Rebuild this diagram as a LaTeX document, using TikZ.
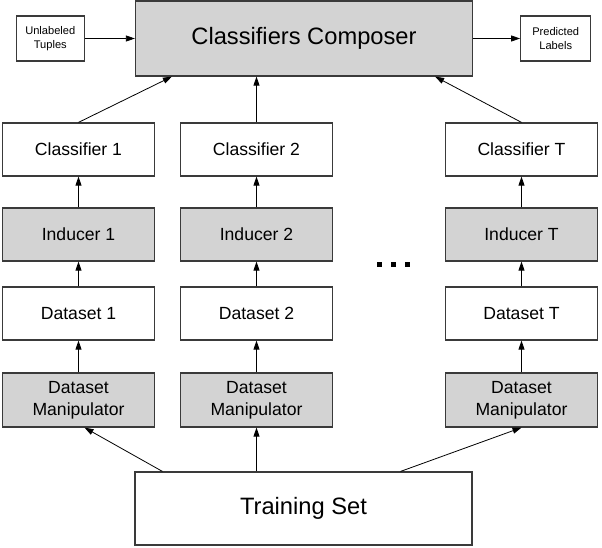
\documentclass[tikz,border=0pt]{standalone}
\usepackage{fontspec}
\setmainfont{Liberation Sans}
\usetikzlibrary{arrows.meta, positioning, calc}

\definecolor{boxgray}{HTML}{D3D3D3}
\definecolor{edgegray}{HTML}{3A3A3A}

\begin{document}
\begin{tikzpicture}[
    x=1pt, y=-1pt,
    bigbox/.style={
        rectangle,
        draw=edgegray,
        line width=1.2pt,
        minimum width=337pt,
        align=center,
        font=\fontsize{23.7}{28}\selectfont
    },
    stage/.style={
        rectangle,
        draw=edgegray,
        line width=1.2pt,
        fill=white,
        minimum width=152pt,
        minimum height=53pt,
        align=center,
        font=\fontsize{17.6}{22}\selectfont
    },
    smallbox/.style={
        rectangle,
        draw=edgegray,
        line width=1.2pt,
        minimum height=45pt,
        align=center,
        font=\fontsize{11.1}{13.5}\selectfont
    },
    shaded/.style={fill=boxgray},
    flow/.style={-{Triangle[length=9pt,width=6pt]}, line width=0.8pt, black}
]
    \useasboundingbox (0,0) rectangle (602,548);

    % TOP ROW
    \node[bigbox, shaded, minimum height=75pt] (comp) at (304, 38.5) {Classifiers Composer};
    \node[smallbox, minimum width=68pt, left=50pt of comp] (tuples) {Unlabeled\\Tuples};
    \node[smallbox, minimum width=70pt, right=47pt of comp] (labels) {Predicted\\Labels};

    % Classifiers
    \node[stage] (cls1) at (78.5, 149.5) {Classifier 1};
    \node[stage] (cls2) at (256.5, 149.5) {Classifier 2};
    \node[stage] (clsT) at (521.5, 149.5) {Classifier T};

    % Inducers
    \node[stage, shaded] (ind1) at (78.5, 234.5) {Inducer 1};
    \node[stage, shaded] (ind2) at (256.5, 234.5) {Inducer 2};
    \node[stage, shaded] (indT) at (521.5, 234.5) {Inducer T};

    % Datasets
    \node[stage] (ds1) at (78.5, 313.5) {Dataset 1};
    \node[stage] (ds2) at (256.5, 313.5) {Dataset 2};
    \node[stage] (dsT) at (521.5, 313.5) {Dataset T};

    % Manipulators
    \node[stage, shaded, minimum height=54pt] (man1) at (78.5, 400) {Dataset\\Manipulator};
    \node[stage, shaded, minimum height=54pt] (man2) at (256.5, 400) {Dataset\\Manipulator};
    \node[stage, shaded, minimum height=54pt] (manT) at (521.5, 400) {Dataset\\Manipulator};

    % BOTTOM
    \node[bigbox, minimum height=73pt] (train) at (303.5, 508.5) {Training Set};

    % dots between columns
    \foreach \x in {379.5, 393.5, 407.5} {
        \fill[black] (\x-2.5, 262) rectangle (\x+2.5, 267);
    }

    % Arrows
    \draw[flow] (tuples) -- (comp);
    \draw[flow] (comp) -- (labels);

    \draw[flow] (cls1.north) -- ([xshift=37pt]comp.south west);
    \draw[flow] (cls2.north) -- (cls2.north |- comp.south);
    \draw[flow] (clsT.north) -- ([xshift=-38pt]comp.south east);

    \foreach \c in {1, 2, T} {
        \draw[flow] (ind\c) -- (cls\c);
        \draw[flow] (ds\c) -- (ind\c);
        \draw[flow] (man\c) -- (ds\c);
    }

    \draw[flow] ([xshift=28pt]train.north west) -- ([xshift=6pt]man1.south);
    \draw[flow] (train.north -| man2.south) -- (man2.south);
    \draw[flow] ([xshift=-72pt]train.north east) -- (manT.south);
\end{tikzpicture}
\end{document}
